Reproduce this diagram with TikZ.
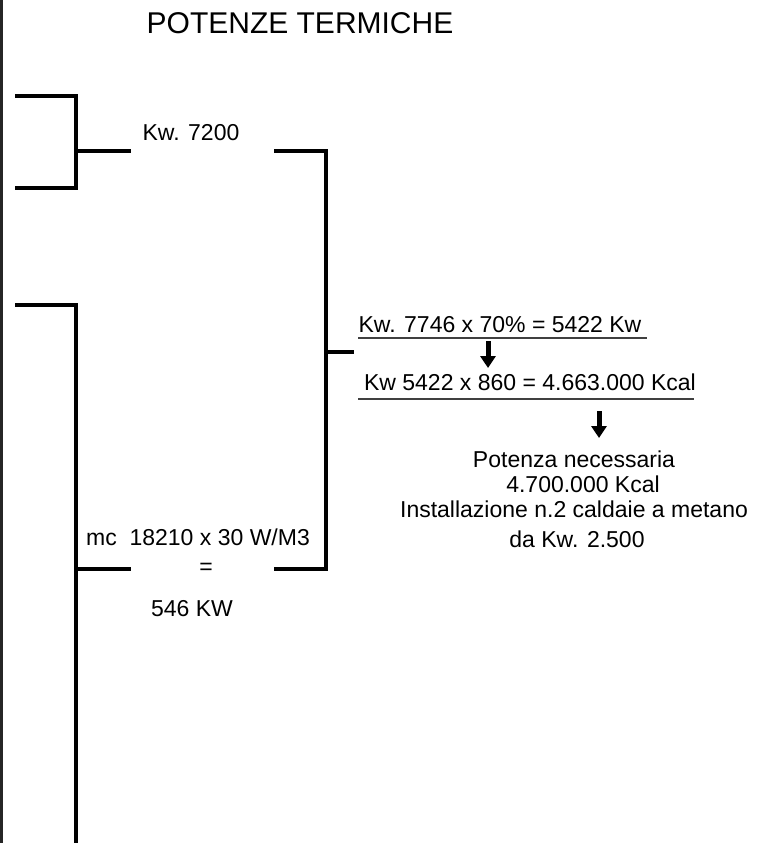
\documentclass[tikz,border=0pt]{standalone}
\usepackage{fontspec}
\setmainfont{Liberation Sans}
\usetikzlibrary{arrows.meta}
\begin{document}
\begin{tikzpicture}[x=1pt,y=-1pt,
  txt/.style={font=\fontsize{23}{27}\selectfont,inner sep=0pt,anchor=base},
  ttl/.style={font=\fontsize{30}{34}\selectfont,inner sep=0pt,anchor=base},
  brk/.style={line width=3.6pt,line cap=rect},
  uline/.style={line width=1.6pt,black!75},
  fatarr/.style={line width=5pt,-{Triangle[width=15pt,length=12pt]}}]
  \useasboundingbox (0,0) rectangle (769,843);
  % bordo sinistro
  \draw[line width=2.5pt,black!85] (1.3,0) -- (1.3,843);
  % titolo
  \node[ttl] (title) at (300,34) {POTENZE TERMICHE};
  % prima parentesi
  \node[txt] (kwA) at (191,140) {Kw. 7200};
  \draw[brk] (17,96) -- (76,96) -- (76,188) -- (17,188);
  \draw[brk] (76,151) -- (129,151);
  % seconda parentesi
  \draw[brk] (17,305) -- (76,305) -- (76,845);
  \draw[brk] (76,569) -- (129,569);
  \node[txt] (mcA) at (198,545) {mc\ \ 18210 x 30 W/M3};
  \node[txt,anchor=center] (eqA) at (206,569) {=};
  \node[txt] (kwB) at (192,616) {546 KW};
  % parentesi di somma
  \draw[brk] (276,151) -- (326,151) -- (326,569) -- (276,569);
  \draw[brk] (326,352) -- (352,352);
  % calcoli
  \node[txt] (calcA) at (500,332) {Kw. 7746 x 70\% = 5422 Kw};
  \draw[uline] (358,338) -- (647,338);
  \coordinate (arrA1) at (488,341);
  \coordinate (arrA2) at (488,368);
  \draw[fatarr] (arrA1) -- (arrA2);
  \node[txt] (calcB) at (530,390) {Kw 5422 x 860 = 4.663.000 Kcal};
  \draw[uline] (358,399) -- (694,399);
  \coordinate (arrB1) at (599,411);
  \coordinate (arrB2) at (599,438);
  \draw[fatarr] (arrB1) -- (arrB2);
  % risultato
  \node[txt] (resA) at (574,467) {Potenza necessaria};
  \node[txt] (resB) at (583,492) {4.700.000 Kcal};
  \node[txt] (resC) at (574,517) {Installazione n.2 caldaie a metano};
  \node[txt] (resD) at (577,547) {da Kw. 2.500};
\end{tikzpicture}
\end{document}
